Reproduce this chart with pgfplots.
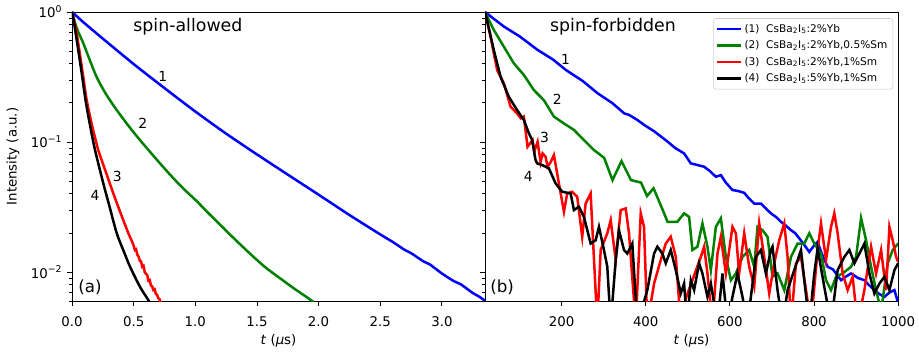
\documentclass[border=0pt]{standalone}
\usepackage{fontspec}
\setmainfont{DejaVu Sans}
\usepackage{pgfplots}
\pgfplotsset{compat=1.18}
\definecolor{mblue}{RGB}{0,0,255}
\definecolor{mgreen}{RGB}{0,128,0}
\definecolor{mred}{RGB}{255,0,0}
\begin{document}
\begin{tikzpicture}
\begin{axis}[at={(0pt,0pt)}, anchor=south west,
  scale only axis, width=297.4pt, height=208.1pt,
  ymode=log, ymin=0.006, ymax=1,
  axis line style={line width=0.6pt},
  tick style={line width=0.6pt, black},
  major tick length=3.5pt, minor tick length=2pt,
  tick align=outside, xtick pos=left, ytick pos=left,
  tick label style={font=\fontsize{9.6}{11}\selectfont},
  xticklabel style={yshift=-4.5pt},
  ytick={0.01,0.1,1},
  minor ytick={0.006,0.007,0.008,0.009,0.02,0.03,0.04,0.05,0.06,0.07,0.08,0.09,0.2,0.3,0.4,0.5,0.6,0.7,0.8,0.9},
  xlabel style={font=\fontsize{9.6}{11}\selectfont, at={(axis description cs:0.5,-0.137)}, anchor=center},
  xmin=0, xmax=3.35,
  xtick={0,0.5,1,1.5,2,2.5,3}, xticklabels={0.0,0.5,1.0,1.5,2.0,2.5,3.0},
  yticklabels={10\textsuperscript{−2},10\textsuperscript{−1},10\textsuperscript{0}},
  xlabel={\textit{t} (\textit{μ}s)},
  ylabel={Intensity (a.u.)},
  ylabel style={font=\fontsize{9.6}{11}\selectfont, at={(axis description cs:-0.143,0.5)}, anchor=center},
]
\addplot[mblue, line width=1.8pt, no markers, smooth] coordinates {
(0,1) (0.05,0.906) (0.1,0.822) (0.25,0.624) (0.5,0.398) (0.75,0.260) (1.0,0.1718) (1.25,0.1161) (1.5,0.0804) (1.75,0.0562) (2.0,0.0394) (2.25,0.0275) (2.5,0.0195) (2.6,0.0171) (2.7,0.0148) (2.75,0.0140) (2.85,0.0121) (2.9,0.0115) (3.0,0.00977) (3.1,0.0085) (3.15,0.0081) (3.25,0.00692) (3.3,0.0065) (3.35,0.00603)};
\addplot[mgreen, line width=1.8pt, no markers, smooth] coordinates {
(0,1) (0.02,0.855) (0.045,0.724) (0.092,0.574) (0.14,0.437) (0.2,0.316) (0.265,0.243) (0.335,0.192) (0.43,0.1445) (0.525,0.111) (0.66,0.0785) (0.795,0.0562) (0.9,0.0442) (1.012,0.0351) (1.1,0.0288) (1.201,0.0232) (1.3,0.0187) (1.39,0.0155) (1.48,0.0129) (1.58,0.01067) (1.7,0.00879) (1.8,0.0075) (1.9,0.00646) (1.96,0.00589)};
\addplot[mred, line width=1.8pt, no markers, smooth, tension=0.3] coordinates {
(0,1) (0.016,0.867) (0.038,0.686) (0.065,0.467) (0.089,0.327) (0.119,0.210) (0.162,0.135) (0.213,0.0867) (0.282,0.0562) (0.335,0.0403) (0.40,0.0275) (0.46,0.0196) (0.48,0.0178) (0.50,0.0160) (0.51,0.0148) (0.52,0.0150) (0.53,0.0136) (0.54,0.0132) (0.55,0.0122) (0.56,0.0121) (0.57,0.0110) (0.58,0.0112) (0.59,0.0100) (0.60,0.0097) (0.61,0.0095) (0.62,0.0086) (0.63,0.0087) (0.64,0.0079) (0.65,0.0078) (0.66,0.0073) (0.67,0.0074) (0.68,0.0068) (0.69,0.0067) (0.70,0.0063) (0.71,0.0062) (0.72,0.0058) (0.73,0.0057)};
\addplot[black, line width=1.8pt, no markers, smooth] coordinates {
(0,1) (0.016,0.838) (0.032,0.665) (0.057,0.467) (0.081,0.327) (0.110,0.210) (0.146,0.135) (0.187,0.0867) (0.254,0.0481) (0.30,0.0331) (0.363,0.0199) (0.42,0.01445) (0.471,0.0110) (0.552,0.0077) (0.619,0.0061) (0.64,0.00562)};
\node[font=\fontsize{12.5}{14}\selectfont] at (axis cs:0.94,0.77) {spin-allowed};
\node[font=\fontsize{10}{12}\selectfont] at (axis cs:0.736,0.322) {1};
\node[font=\fontsize{10}{12}\selectfont] at (axis cs:0.574,0.139) {2};
\node[font=\fontsize{10}{12}\selectfont] at (axis cs:0.368,0.054) {3};
\node[font=\fontsize{10}{12}\selectfont] at (axis cs:0.187,0.0386) {4};
\node[font=\fontsize{12}{14}\selectfont] at (axis cs:0.146,0.0077) {(a)};
\end{axis}
\begin{axis}[at={(297.4pt,0pt)}, anchor=south west,
  scale only axis, width=297.4pt, height=208.1pt,
  ymode=log, ymin=0.006, ymax=1,
  axis line style={line width=0.6pt},
  tick style={line width=0.6pt, black},
  major tick length=3.5pt, minor tick length=2pt,
  tick align=outside, xtick pos=left, ytick pos=left,
  tick label style={font=\fontsize{9.6}{11}\selectfont},
  xticklabel style={yshift=-4.5pt},
  ytick={0.01,0.1,1},
  minor ytick={0.006,0.007,0.008,0.009,0.02,0.03,0.04,0.05,0.06,0.07,0.08,0.09,0.2,0.3,0.4,0.5,0.6,0.7,0.8,0.9},
  xlabel style={font=\fontsize{9.6}{11}\selectfont, at={(axis description cs:0.5,-0.137)}, anchor=center},
  xmin=18, xmax=1000,
  xtick={200,400,600,800,1000}, xticklabels={200,400,600,800,1000},
  yticklabels={,,},
  xlabel={\textit{t} (\textit{μ}s)},
  legend cell align=left,
  legend style={at={(1,1)}, anchor=north east, xshift=-3.6pt, yshift=-4.5pt, draw=black!20, rounded corners=2pt, font=\fontsize{7.6}{9}\selectfont, inner sep=2pt, row sep=0.6pt, fill=white},
  legend image code/.code={\draw[#1, line width=1.8pt] (0pt,0pt) -- (16.6pt,0pt);},
]
\addplot[mblue, line width=1.8pt, no markers] coordinates {
(18,1) (40,0.88) (63.3,0.771) (100,0.65) (142.9,0.511) (180,0.43) (210.2,0.358) (250,0.295) (285.7,0.237) (320,0.200) (349.1,0.166) (360,0.162) (380,0.148) (396.7,0.135) (420,0.121) (452.4,0.1005) (470,0.090) (491.2,0.0818) (507.2,0.0685) (520,0.0670) (538.8,0.0646) (552,0.0600) (566.7,0.0541) (578.6,0.0557) (590,0.0490) (606.2,0.0428) (620,0.0420) (634.1,0.0407) (645,0.0370) (657.9,0.0337) (673.8,0.0337) (685,0.0310) (697.6,0.0283) (710,0.0265) (721.4,0.0244) (733,0.0228) (745.3,0.0210) (755,0.0200) (765.0,0.0182) (778,0.0160) (788.8,0.0143) (800,0.0160) (808.6,0.0171) (818,0.0140) (832.4,0.0110) (845,0.0105) (864.3,0.00867) (875,0.0092) (888.1,0.00977) (905,0.0090) (919.8,0.00867) (930,0.0080) (943.6,0.00728) (955,0.0068) (967.4,0.00646) (980,0.0070) (991.2,0.00728) (1000,0.0058)};
\addlegendentry{(1)\ \ CsBa\textsubscript{2}I\textsubscript{5}:2\%Yb}
\addplot[mgreen, line width=1.8pt, no markers] coordinates {
(18,1) (38.8,0.727) (62.6,0.541) (86.4,0.403) (110.2,0.328) (134.0,0.251) (157.8,0.210) (181.7,0.157) (205.5,0.139) (229.3,0.124) (253.1,0.1036) (276.9,0.0868) (292.9,0.0794) (301.4,0.0753) (321.0,0.0510) (342.4,0.0714) (365.0,0.0510) (388.8,0.0488) (403.1,0.0385) (418.6,0.0441) (442.4,0.0290) (451.9,0.0243) (475.2,0.0244) (491.2,0.0283) (503.1,0.0266) (511.0,0.0148) (522.9,0.0157) (534.8,0.0237) (546.7,0.0157) (554.8,0.01036) (566.7,0.0223) (578.6,0.0259) (590.5,0.0131) (602.4,0.00867) (614.3,0.00977) (630.0,0.0131) (646.0,0.0148) (657.9,0.0110) (665.7,0.0223) (677.6,0.0210) (689.5,0.0187) (701.4,0.0092) (713.4,0.00977) (729.3,0.00728) (745.3,0.0131) (761.0,0.0166) (776.9,0.0166) (788.8,0.0199) (800.7,0.0166) (816.7,0.0139) (828.6,0.00867) (840.5,0.00728) (852.4,0.0092) (868.1,0.00977) (888.1,0.0110) (900.0,0.0131) (911.9,0.0260) (923.8,0.0176) (935.7,0.0110) (947.6,0.00728) (959.5,0.005) (975.2,0.0117) (987.1,0.0148) (1000,0.0166)};
\addlegendentry{(2)\ \ CsBa\textsubscript{2}I\textsubscript{5}:2\%Yb,0.5\%Sm}
\addplot[mred, line width=1.8pt, no markers] coordinates {
(18,1) (31.0,0.646) (46.7,0.358) (62.6,0.283) (78.6,0.187) (94.3,0.166) (103.1,0.152) (110.2,0.157) (119.0,0.092) (130.9,0.1036) (134.8,0.0842) (142.9,0.1005) (150,0.0700) (154.8,0.0818) (161.9,0.0771) (166.7,0.0646) (173.8,0.0700) (181.7,0.0794) (193.6,0.0481) (205.5,0.0291) (213.3,0.0403) (225.2,0.0415) (237.1,0.0380) (249.0,0.0187) (257.1,0.0337) (269.0,0.0403) (284.8,0.004) (292.9,0.0148) (308.6,0.0199) (316.7,0.0251) (328.6,0.0124) (340.5,0.0300) (352.4,0.0309) (360.2,0.0199) (376.2,0.004) (388.1,0.0283) (395.9,0.0223) (403.8,0.004) (419.8,0.00818) (435.7,0.0124) (447.6,0.0166) (459.5,0.0187) (471.4,0.0131) (483.3,0.004) (495.2,0.00628) (531.0,0.0131) (538.8,0.0157) (546.7,0.00977) (558.6,0.004) (570.5,0.0139) (578.6,0.0187) (590.5,0.00977) (606.2,0.0223) (614.3,0.0199) (622.1,0.00977) (634.1,0.0199) (646.0,0.0110) (657.9,0.0077) (669.8,0.0237) (681.7,0.0131) (693.6,0.00686) (705.5,0.0117) (717.4,0.0176) (729.3,0.0237) (737.2,0.0131) (745.3,0.004) (757.2,0.0117) (769.1,0.0131) (781.0,0.00728) (792.9,0.004) (808.6,0.0148) (816.7,0.0237) (828.6,0.0124) (840.5,0.0223) (848.3,0.0283) (856.2,0.0199) (868.1,0.00977) (880.0,0.00728) (891.9,0.0092) (903.8,0.004) (919.8,0.00728) (935.7,0.0157) (947.6,0.00977) (959.5,0.0148) (971.4,0.00728) (979.3,0.0223) (987.1,0.0176) (995.2,0.0131) (1000,0.012)};
\addlegendentry{(3)\ \ CsBa\textsubscript{2}I\textsubscript{5}:2\%Yb,1\%Sm}
\addplot[black, line width=1.8pt, no markers] coordinates {
(18,1) (25,0.80) (38.8,0.510) (54.8,0.318) (74.5,0.223) (94.3,0.176) (110.2,0.148) (122.1,0.117) (130.0,0.1036) (138.1,0.0727) (141.9,0.0686) (153.8,0.0665) (169.8,0.0628) (185.7,0.0481) (201.4,0.0415) (221.4,0.0403) (229.3,0.0300) (241.2,0.0318) (253.1,0.0266) (269.0,0.0166) (281.0,0.0176) (288.8,0.0223) (300.7,0.0148) (308.6,0.0110) (316.7,0.004) (328.6,0.0124) (336.4,0.0210) (348.3,0.0148) (356.2,0.0139) (368.1,0.0166) (380.0,0.004) (403.8,0.00728) (419.8,0.0139) (427.6,0.0157) (439.5,0.0139) (447.6,0.0117) (459.5,0.0148) (471.4,0.01036) (483.3,0.00686) (491.2,0.00818) (498,0.004) (507.2,0.00867) (515.0,0.00728) (526.9,0.0117) (534.8,0.00977) (546.7,0.00646) (554.8,0.00818) (570.5,0.004) (582.4,0.00977) (594.3,0.004) (606.2,0.00646) (618.1,0.00977) (630.0,0.00646) (641.9,0.004) (661.9,0.0131) (673.8,0.0148) (685.7,0.00977) (697.6,0.0148) (701.4,0.0157) (713.3,0.00728) (725.2,0.004) (737.2,0.00728) (753.1,0.01036) (769.1,0.0148) (776.9,0.00867) (788.8,0.004) (800.7,0.00977) (808.6,0.0152) (824.5,0.0077) (840.5,0.004) (856.2,0.01036) (872.2,0.0131) (884.1,0.0148) (896.0,0.0117) (907.9,0.0139) (919.8,0.0166) (931.7,0.00977) (943.6,0.00686) (955.5,0.00818) (967.4,0.0092) (979.3,0.00728) (991.2,0.01036) (1000,0.0117)};
\addlegendentry{(4)\ \ CsBa\textsubscript{2}I\textsubscript{5}:5\%Yb,1\%Sm}
\node[font=\fontsize{12.5}{14}\selectfont] at (axis cs:322,0.77) {spin-forbidden};
\node[font=\fontsize{10}{12}\selectfont] at (axis cs:209.5,0.433) {1};
\node[font=\fontsize{10}{12}\selectfont] at (axis cs:189.5,0.213) {2};
\node[font=\fontsize{10}{12}\selectfont] at (axis cs:159.5,0.108) {3};
\node[font=\fontsize{10}{12}\selectfont] at (axis cs:120.5,0.0547) {4};
\node[font=\fontsize{12}{14}\selectfont] at (axis cs:58.6,0.0077) {(b)};
\end{axis}
\pgfresetboundingbox
\path[use as bounding box] (-51.84pt,-36pt) rectangle (609.84pt,216.72pt);
\end{tikzpicture}
\end{document}
